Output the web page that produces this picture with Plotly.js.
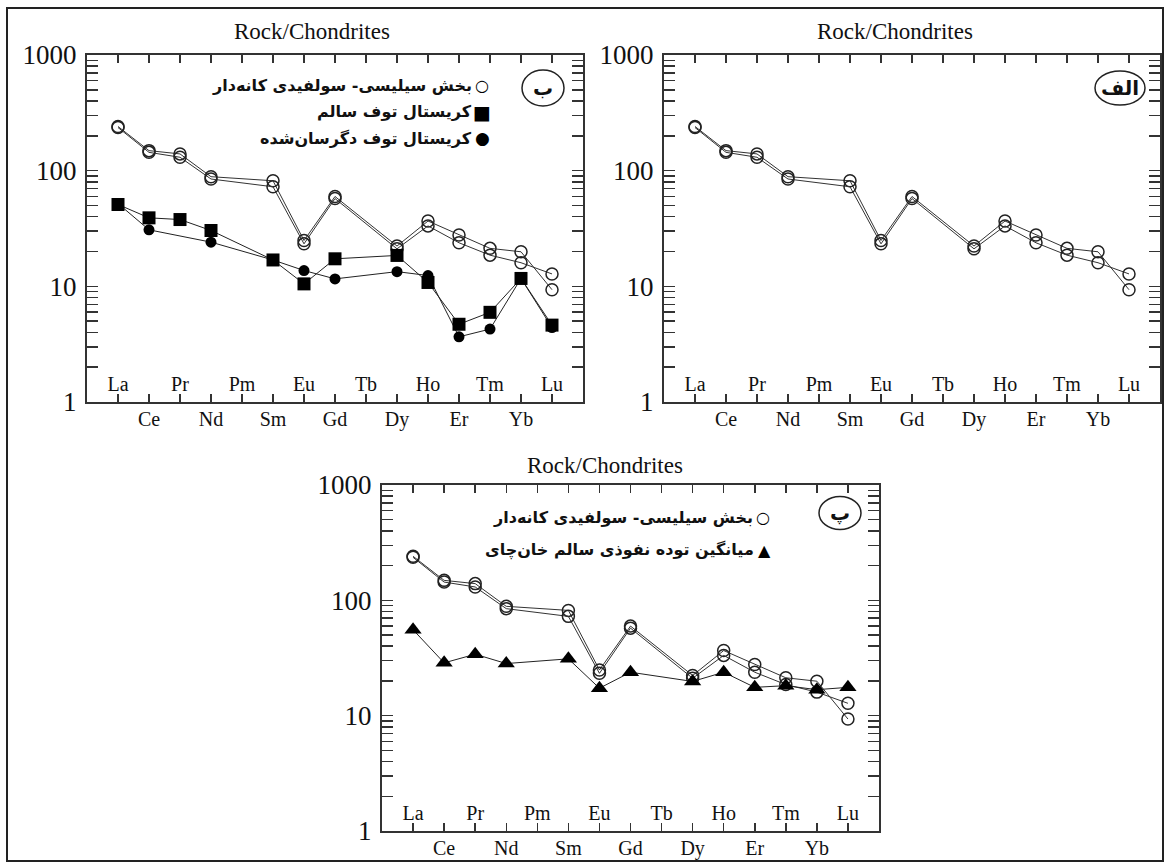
<!DOCTYPE html>
<html>
<head>
<meta charset="utf-8">
<script src="https://cdn.plot.ly/plotly-3.0.1.min.js"></script>
<style>html,body{margin:0;padding:0;background:#fff;}#chart{width:1166px;height:863px;}</style>
</head>
<body>
<div id="chart"></div>
<script>
// ---------- data ----------
const elements = ['La','Ce','Pr','Nd','Pm','Sm','Eu','Gd','Tb','Dy','Ho','Er','Tm','Yb','Lu'];
const yTickVals = [1, 10, 100, 1000];
const yTickText = ['1', '10', '100', '1000'];
const silicicA = [241, 149, 139.6, 88.7, null, 81.8, 24.9, 59.8, null, 22.3, 36.7, 27.8, 21.3, 19.9, 9.35];
const silicicB = [236, 144, 130.6, 84.7, null, 72.6, 23.3, 57.4, null, 21.1, 33.3, 23.8, 18.6, 16.0, 12.8];
const freshTuff = [51, 39.1, 37.8, 30.4, null, 16.9, 10.5, 17.3, null, 18.5, 10.8, 4.7, 5.96, 11.7, 4.62];
const alteredTuff = [52, 30.8, null, 24.1, null, 16.9, 13.7, 11.6, null, 13.4, 12.4, 3.66, 4.27, 11.7, 4.4];
const intrusiveMean = [55.6, 28.7, 34.1, 28.3, null, 31.1, 17.3, 23.8, null, 19.8, 23.8, 17.6, 18.2, 16.8, 17.6];
const titleText = 'Rock/Chondrites';
const nameSilicic = 'بخش سیلیسی- سولفیدی کانه‌دار';
const nameFresh = 'کریستال توف سالم';
const nameAltered = 'کریستال توف دگرسان‌شده';
const nameIntrusive = 'میانگین توده نفوذی سالم خان‌چای';
const panelLabels = ['ب', 'الف', 'پ'];

// ---------- helpers ----------
const W = 1166, H = 863;
const fx = p => p / W;
const fy = p => 1 - p / H;
const xIdx = elements.map((_, i) => i);
const oddIdx = xIdx.filter(i => i % 2 === 1);
const evenIdx = xIdx.filter(i => i % 2 === 0);
const minorVals = [];
[1, 10, 100].forEach(d => { for (let k = 2; k <= 9; k++) minorVals.push(d * k); });

const AX = '#333';
const serif = 'Liberation Serif, Times New Roman, serif';
const arab = 'DejaVu Sans, Noto Sans, sans-serif';

// main x axis: ticks at every element, labels for the odd ones below the axis
function xMain(domain, anchor) {
  return {domain, anchor, range: [-1, 15], tickmode: 'array', tickvals: xIdx,
    ticktext: xIdx.map(i => (i % 2 === 1 ? elements[i] : '')), ticks: 'inside', ticklen: 8, tickwidth: 1.5,
    tickcolor: AX, showline: true, linecolor: AX, linewidth: 2, mirror: 'allticks',
    showgrid: false, zeroline: false, ticklabelstandoff: -2,
    tickfont: {family: serif, size: 20, color: '#111'}};
}
// label-only axis for the even elements, placed just above the bottom axis line
function xInner(base, posPx) {
  return {overlaying: base, anchor: 'free', position: fy(posPx), range: [-1, 15], tickmode: 'array',
    tickvals: evenIdx, ticktext: evenIdx.map(i => elements[i]), ticks: '', showline: false,
    showgrid: false, zeroline: false, ticklabelstandoff: 0,
    tickfont: {family: serif, size: 20, color: '#111'}};
}
function yAx(domain, anchor) {
  return {domain, anchor, type: 'log', range: [0, 3], tickmode: 'array', tickvals: yTickVals,
    ticktext: yTickText, ticks: 'inside', ticklen: 11, tickwidth: 1.5, tickcolor: AX,
    showline: true, linecolor: AX, linewidth: 2, mirror: 'allticks', showgrid: false,
    zeroline: false, ticklabelstandoff: 3,
    tickfont: {family: serif, size: 27, color: '#111'},
    minor: {tickmode: 'array', tickvals: minorVals, ticks: 'inside', ticklen: 6, tickwidth: 1.5, tickcolor: AX, showgrid: false}};
}

function openCircle(y, xa, ya) {
  return {x: xIdx, y, xaxis: xa, yaxis: ya, type: 'scatter', mode: 'lines+markers', connectgaps: true,
    name: nameSilicic, showlegend: false,
    line: {color: '#333', width: 1},
    marker: {symbol: 'circle-open', size: 12, color: '#222', line: {width: 1.5, color: '#222'}}};
}
// empty traces that register the label-only axes
const holder = (xa, ya) => ({x: [], y: [], xaxis: xa, yaxis: ya, type: 'scatter', mode: 'markers', showlegend: false, hoverinfo: 'skip'});

const traces = [
  openCircle(silicicA, 'x', 'y'),
  openCircle(silicicB, 'x', 'y'),
  {x: xIdx, y: alteredTuff, xaxis: 'x', yaxis: 'y', type: 'scatter', mode: 'lines+markers', connectgaps: true,
    name: nameAltered, showlegend: false, line: {color: '#222', width: 1},
    marker: {symbol: 'circle', size: 11, color: '#000'}},
  {x: xIdx, y: freshTuff, xaxis: 'x', yaxis: 'y', type: 'scatter', mode: 'lines+markers', connectgaps: true,
    name: nameFresh, showlegend: false, line: {color: '#222', width: 1},
    marker: {symbol: 'square', size: 13, color: '#000'}},
  openCircle(silicicA, 'x2', 'y2'),
  openCircle(silicicB, 'x2', 'y2'),
  openCircle(silicicA, 'x3', 'y3'),
  openCircle(silicicB, 'x3', 'y3'),
  {x: xIdx, y: intrusiveMean, xaxis: 'x3', yaxis: 'y3', type: 'scatter', mode: 'lines+markers', connectgaps: true,
    name: nameIntrusive, showlegend: false, line: {color: '#222', width: 1},
    marker: {symbol: 'triangle-up', size: 15, color: '#000'}},
  holder('x4', 'y'), holder('x5', 'y2'), holder('x6', 'y3')
];

// panel pixel boxes [left, right, top, bottom]
const P1 = [87, 583, 55, 402];
const P2 = [664, 1160, 55, 402];
const P3 = [382, 879, 485, 831];
const dx = P => [fx(P[0]), fx(P[1])];
const dy = P => [fy(P[3]), fy(P[2])];

const annotations = [];
const shapes = [];
function ann(text, x, y, size, opts) {
  annotations.push(Object.assign({text, xref: 'paper', yref: 'paper', x: fx(x), y: fy(y),
    xanchor: 'center', yanchor: 'middle',
    showarrow: false, font: {family: serif, size, color: '#111'}}, opts || {}));
}
// titles
ann(titleText, 312, 32, 23);
ann(titleText, 895, 32, 23);
ann(titleText, 605, 465, 23);
// legends
function legendRow(label, sym, symSize, xs, y) {
  ann('<b>' + label + '</b>', xs - 8, y, 16, {xanchor: 'right', font: {family: arab, size: 16, color: '#111'}});
  ann(sym, xs, y, symSize, {font: {family: 'DejaVu Sans', size: symSize, color: '#000'}});
}
legendRow(nameSilicic, '○', 16, 482, 86);
legendRow(nameFresh, '■', 19, 482, 112);
legendRow(nameAltered, '●', 17, 482, 138);
legendRow(nameSilicic, '○', 16, 763, 517);
legendRow(nameIntrusive, '▲', 16, 764, 550);
// panel labels in ovals
function oval(cx, cy, w, h, label) {
  shapes.push({type: 'circle', xref: 'paper', yref: 'paper', x0: fx(cx - w / 2), x1: fx(cx + w / 2),
    y0: fy(cy + h / 2), y1: fy(cy - h / 2), line: {color: '#222', width: 1.5}});
  ann('<b>' + label + '</b>', cx, cy, 20, {font: {family: arab, size: 20, color: '#111'}});
}
oval(543, 88, 42, 36, panelLabels[0]);
oval(1120, 88, 50, 34, panelLabels[1]);
oval(840, 513, 42, 33, panelLabels[2]);
// outer frame
shapes.push({type: 'rect', xref: 'paper', yref: 'paper', x0: fx(7), x1: fx(1163), y0: fy(861), y1: fy(8),
  line: {color: '#222', width: 2}});

const layout = {
  width: W, height: H, margin: {l: 0, r: 0, t: 0, b: 0},
  paper_bgcolor: '#fff', plot_bgcolor: '#fff', showlegend: false,
  xaxis: xMain(dx(P1), 'y'), yaxis: yAx(dy(P1), 'x'),
  xaxis2: xMain(dx(P2), 'y2'), yaxis2: yAx(dy(P2), 'x2'),
  xaxis3: xMain(dx(P3), 'y3'), yaxis3: yAx(dy(P3), 'x3'),
  xaxis4: xInner('x', 370), xaxis5: xInner('x2', 370), xaxis6: xInner('x3', 799),
  annotations, shapes
};
Plotly.newPlot('chart', traces, layout, {staticPlot: true});
</script>
</body>
</html>
